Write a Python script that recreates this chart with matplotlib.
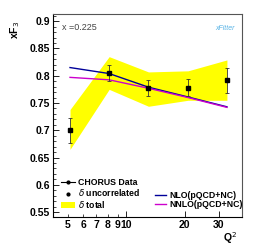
import numpy as np
import matplotlib.pyplot as plt
from matplotlib.lines import Line2D
from matplotlib.patches import Patch
from matplotlib.ticker import FixedLocator, FixedFormatter, MultipleLocator

plt.rcParams['font.family'] = ['Liberation Sans', 'DejaVu Sans']

# CHORUS data, x = 0.225
q2 = [5.12, 8.15, 13.0, 20.8, 33.0]
xf3 = [0.700, 0.805, 0.777, 0.778, 0.792]
err_unc = [0.023, 0.014, 0.015, 0.016, 0.023]
band_lo = [0.665, 0.775, 0.744, 0.755, 0.755]
band_hi = [0.738, 0.835, 0.807, 0.809, 0.829]

nlo = [0.815, 0.804, 0.779, 0.761, 0.743]
nnlo = [0.797, 0.7925, 0.777, 0.760, 0.742]

xmajor = [10, 20, 30]
xminor = [5, 6, 7, 8, 9]
yticks = [0.55, 0.6, 0.65, 0.7, 0.75, 0.8, 0.85, 0.9]
yticklabels = ['0.55', '0.6', '0.65', '0.7', '0.75', '0.8', '0.85', '0.9']

fig = plt.figure(figsize=(2.66, 2.52), dpi=100)
ax = fig.add_axes([0.199, 0.139, 0.711, 0.805])

ax.fill_between(q2, band_lo, band_hi, color='#ffff00', lw=0, zorder=1)
ax.plot(q2, nlo, color='#000099', lw=1.0, zorder=2)
ax.plot(q2, nnlo, color='#cc00cc', lw=1.0, zorder=2)
ax.errorbar(q2, xf3, yerr=err_unc, fmt='s', ms=2.2, color='black',
            ecolor='#333333', elinewidth=0.6, capsize=1.2, capthick=0.6, zorder=3)

ax.set_xscale('log')
ax.set_xlim(4.18, 39.5)
ax.set_ylim(0.541, 0.913)

ax.xaxis.set_major_locator(FixedLocator(xmajor))
ax.xaxis.set_major_formatter(FixedFormatter([str(v) for v in xmajor]))
ax.xaxis.set_minor_locator(FixedLocator(xminor))
ax.xaxis.set_minor_formatter(FixedFormatter([str(v) for v in xminor]))
ax.yaxis.set_minor_locator(MultipleLocator(0.01))
ax.set_yticks(yticks)
ax.set_yticklabels(yticklabels)

ax.tick_params(which='both', direction='in', top=False, right=False,
               labelsize=7.5, pad=2)
ax.tick_params(which='major', length=4, width=0.6)
ax.tick_params(which='minor', length=2, width=0.5)
ax.tick_params(axis='x', which='minor', length=2.5)
for lab in (ax.get_xticklabels() + ax.get_yticklabels()
            + ax.get_xticklabels(minor=True)):
    lab.set_fontweight('bold')

for s in ['top', 'right']:
    ax.spines[s].set_color('#555555')
    ax.spines[s].set_linewidth(0.8)
for s in ['left', 'bottom']:
    ax.spines[s].set_linewidth(0.8)

fig.text(0.055, 0.88, 'xF$_3$', rotation=90, fontsize=7.5, fontweight='bold',
         ha='center', va='center')
fig.text(0.865, 0.055, 'Q$^2$', fontsize=7.5, fontweight='bold', ha='center', va='center')
ax.text(0.05, 0.955, 'x =0.225', transform=ax.transAxes, fontsize=6.5,
        color='#444444', ha='left', va='top')
ax.text(0.91, 0.93, 'xFitter', transform=ax.transAxes, fontsize=5,
        color='#5ab4e6', style='italic', ha='center', va='center')

h1 = [Line2D([], [], color='black', marker='o', ms=2, lw=0.8),
      Line2D([], [], color='black', marker='o', ms=2, lw=0),
      Patch(facecolor='#ffff00', edgecolor='none')]
leg1 = ax.legend(h1, ['CHORUS Data', r'$\delta$ uncorrelated', r'$\delta$ total'],
                 loc='lower left', bbox_to_anchor=(0.042, 0.035), frameon=False,
                 handlelength=1.6, handletextpad=0.3, handleheight=0.6,
                 labelspacing=0.05, borderpad=0, borderaxespad=0,
                 prop={'weight': 'bold', 'size': 6.3})
ax.add_artist(leg1)
h2 = [Line2D([], [], color='#000099', lw=1.0),
      Line2D([], [], color='#cc00cc', lw=1.0)]
ax.legend(h2, ['NLO(pQCD+NC)', 'NNLO(pQCD+NC)'], loc='lower left',
          bbox_to_anchor=(0.54, 0.04), frameon=False, handlelength=1.3,
          handletextpad=0.3, labelspacing=0.0, borderpad=0, borderaxespad=0,
          prop={'weight': 'bold', 'size': 6.3})

fig.savefig('out.png', dpi=100)
